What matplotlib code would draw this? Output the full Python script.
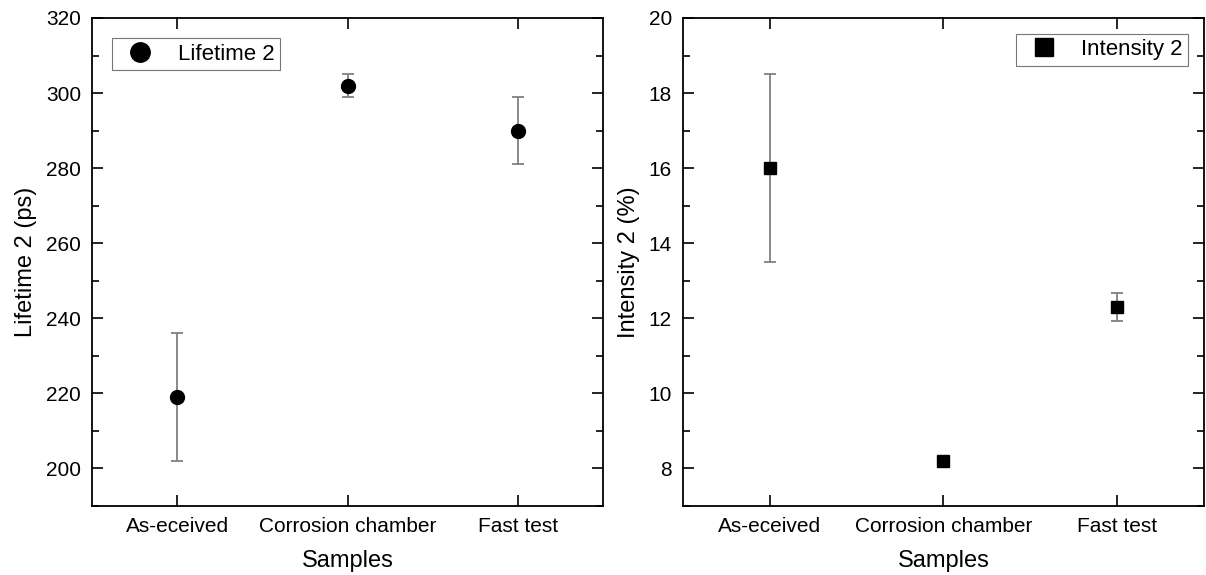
import matplotlib.pyplot as plt
import numpy as np
from matplotlib.ticker import MultipleLocator

plt.rcParams['font.family'] = ['Liberation Sans', 'DejaVu Sans']

samples = ['As-eceived', 'Corrosion chamber', 'Fast test']
lifetime2 = [219, 302, 290]
lifetime2_err = [17, 3, 9]
intensity2 = [16.0, 8.2, 12.3]
intensity2_err = [2.5, 0.1, 0.38]

def style_axes(ax, major, minor):
	ax.set_xlim(-0.5, 2.5)
	ax.set_xticks(range(len(samples)))
	ax.set_xticklabels(samples)
	ax.yaxis.set_major_locator(MultipleLocator(major))
	ax.yaxis.set_minor_locator(MultipleLocator(minor))
	ax.tick_params(axis='both', which='both', direction='in', top=True, right=True,
		labelsize=15, width=1.2, pad=8)
	ax.tick_params(axis='both', which='major', length=8)
	ax.tick_params(axis='y', which='minor', length=5)
	ax.tick_params(axis='x', which='minor', length=0)
	for s in ax.spines.values():
		s.set_linewidth(1.3)
	ax.set_xlabel('Samples', fontsize=17, labelpad=10)

fig = plt.figure(figsize=(12.06, 5.75), dpi=100)
ax1 = fig.add_axes([0.0763, 0.12, 0.4237, 0.8487])
ax2 = fig.add_axes([0.5663, 0.12, 0.4320, 0.8487])

x = np.arange(len(samples))
ax1.errorbar(x, lifetime2, yerr=lifetime2_err, fmt='none',
	ecolor='#808080', elinewidth=1.3, capsize=4.5, capthick=1.3)
ax1.plot(x, lifetime2, 'o', color='black', markersize=10, label='Lifetime 2')
ax1.set_ylim(190, 320)
style_axes(ax1, 20, 10)
ax1.set_ylabel('Lifetime 2 (ps)', fontsize=17, labelpad=6)
leg = ax1.legend(loc='upper left', fontsize=16, fancybox=False, edgecolor='#555555',
	borderaxespad=0.9, borderpad=0.25, handlelength=2.0, handletextpad=0.7, markerscale=1.4)
leg.get_frame().set_linewidth(0.8)

ax2.errorbar(x, intensity2, yerr=intensity2_err, fmt='none',
	ecolor='#808080', elinewidth=1.3, capsize=4.5, capthick=1.3)
ax2.plot(x, intensity2, 's', color='black', markersize=9, label='Intensity 2')
ax2.set_ylim(7, 20)
style_axes(ax2, 2, 1)
ax2.set_ylabel('Intensity 2 (%)', fontsize=17, labelpad=6)
leg = ax2.legend(loc='upper right', fontsize=16, fancybox=False, edgecolor='#555555',
	borderaxespad=0.7, borderpad=0.25, handlelength=2.0, handletextpad=0.7, markerscale=1.4)
leg.get_frame().set_linewidth(0.8)

plt.savefig('out.png', dpi=100)
